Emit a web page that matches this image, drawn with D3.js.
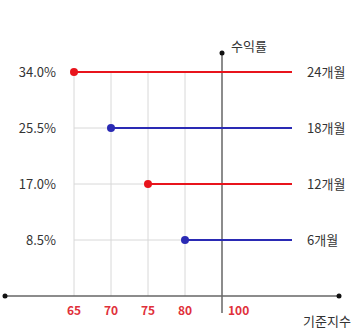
<!DOCTYPE html>
<html>
<head>
<meta charset="utf-8">
<style>
    body { margin: 0; background: #fff; }
    svg { font-family: "Noto Sans CJK KR", "DejaVu Sans", sans-serif; }
    .grid { stroke: #d8d8d8; stroke-width: 1; }
    .axis { stroke: #666; stroke-width: 1.5; }
    .ylab { fill: #333; font-size: 13px; }
    .xlab { fill: #e0303a; font-size: 12px; font-weight: bold; }
    .period { fill: #333; font-size: 13px; }
</style>
</head>
<body>
<svg></svg>
<script src="https://d3js.org/d3.v7.min.js"></script>
<script>
    // index levels on the x axis (not linear: 100 sits where the axis crosses)
    var indexTicks = ['65', '70', '75', '80', '100'];
    // yield for each product
    var returns = [34.0, 25.5, 17.0, 8.5];
    var returnLabels = ['34.0%', '25.5%', '17.0%', '8.5%'];
    // index level where each line starts
    var startIndex = ['65', '70', '75', '80'];
    var periods = ['24개월', '18개월', '12개월', '6개월'];
    var lineColors = ['#e8141c', '#2a2ab4', '#e8141c', '#2a2ab4'];

    var width = 363, height = 329;
    var svg = d3.select('svg').attr('width', width).attr('height', height);

    var x = d3.scalePoint().domain(indexTicks).range([74, 222]);
    var y = d3.scaleLinear().domain([0, 34]).range([296, 72]);
    var lineEnd = 292;

    var rows = returns.map(function (r, i) {
        return { r: r, label: returnLabels[i], start: startIndex[i], period: periods[i], color: lineColors[i] };
    });

    // vertical grid lines
    svg.append('g').selectAll('line')
        .data(indexTicks.slice(0, 4))
        .join('line')
        .attr('class', 'grid')
        .attr('x1', function (d) { return x(d); })
        .attr('x2', function (d) { return x(d); })
        .attr('y1', y(34))
        .attr('y2', y(0));

    // horizontal grid lines
    svg.append('g').selectAll('line')
        .data(rows)
        .join('line')
        .attr('class', 'grid')
        .attr('x1', x('65'))
        .attr('x2', lineEnd)
        .attr('y1', function (d) { return y(d.r); })
        .attr('y2', function (d) { return y(d.r); });

    // axes
    svg.append('line').attr('class', 'axis')
        .attr('x1', 5).attr('x2', 339).attr('y1', y(0)).attr('y2', y(0));
    svg.append('line').attr('class', 'axis')
        .attr('x1', x('100')).attr('x2', x('100')).attr('y1', 53).attr('y2', 313);
    svg.append('circle').attr('cx', 5).attr('cy', y(0)).attr('r', 2.5).attr('fill', '#111');
    svg.append('circle').attr('cx', 339).attr('cy', y(0)).attr('r', 2.5).attr('fill', '#111');
    svg.append('circle').attr('cx', x('100')).attr('cy', 53).attr('r', 2.5).attr('fill', '#111');

    svg.append('text').attr('class', 'period')
        .attr('x', 231).attr('y', 51).text('수익률');
    svg.append('text').attr('class', 'period')
        .attr('x', 303).attr('y', 326).text('기준지수');

    // x tick labels
    svg.append('g').selectAll('text')
        .data(indexTicks)
        .join('text')
        .attr('class', 'xlab')
        .attr('x', function (d) { return d === '100' ? x(d) + 6 : x(d); })
        .attr('y', 315)
        .attr('text-anchor', function (d) { return d === '100' ? 'start' : 'middle'; })
        .text(function (d) { return d; });

    // return lines
    var g = svg.append('g').selectAll('g').data(rows).join('g');
    g.append('line')
        .attr('x1', function (d) { return x(d.start); })
        .attr('x2', lineEnd)
        .attr('y1', function (d) { return y(d.r); })
        .attr('y2', function (d) { return y(d.r); })
        .attr('stroke', function (d) { return d.color; })
        .attr('stroke-width', 2);
    g.append('circle')
        .attr('cx', function (d) { return x(d.start); })
        .attr('cy', function (d) { return y(d.r); })
        .attr('r', 4)
        .attr('fill', function (d) { return d.color; });
    g.append('text')
        .attr('class', 'ylab')
        .attr('x', 56)
        .attr('y', function (d) { return y(d.r) + 5; })
        .attr('text-anchor', 'end')
        .text(function (d) { return d.label; });
    g.append('text')
        .attr('class', 'period')
        .attr('x', 307)
        .attr('y', function (d) { return y(d.r) + 5; })
        .text(function (d) { return d.period; });
</script>
</body>
</html>
